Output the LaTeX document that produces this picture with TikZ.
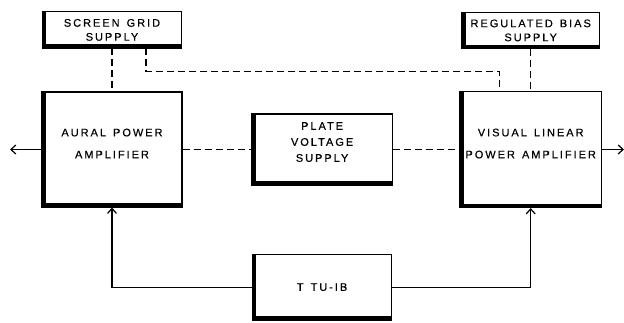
\documentclass[tikz,border=0pt]{standalone}
\usepackage{fontspec}
\newfontfamily\lettr{Liberation Sans}[LetterSpace=18, FakeBold=0.4, WordSpace=1.4]
\usepackage{tikz}
\usetikzlibrary{arrows.meta, positioning}

\begin{document}
\begin{tikzpicture}[
  unit/.style={rectangle, draw, line width=1.1pt, align=center,
               font=\fontsize{11}{14}\selectfont\lettr},
  heavy/.style={line width=4.5pt},
  feed/.style={dash pattern=on 7pt off 4pt, line width=1.3pt},
  arrow/.style={-{Straight Barb[length=5pt, width=9pt]}, line width=1.2pt}
]
  \useasboundingbox (0,0) rectangle (624pt,322pt);

  \node[unit, minimum width=140pt, minimum height=115pt] (aur) at (112pt,172.5pt)
    {AURAL POWER\\[8pt]AMPLIFIER\\[-2pt]\mbox{}};
  \node[unit, minimum width=140pt, minimum height=71pt, right=69pt of aur] (plt)
    {PLATE\\[2pt]VOLTAGE\\[2pt]SUPPLY\\[1pt]\mbox{}};
  \node[unit, minimum width=141pt, minimum height=116pt, right=67pt of plt] (vis)
    {VISUAL LINEAR\\[8pt]POWER AMPLIFIER\\[-2pt]\mbox{}};
  \node[unit, minimum width=139pt, minimum height=36pt, above=43pt of aur] (scr)
    {SCREEN GRID\\SUPPLY};
  \node[unit, minimum width=137pt, minimum height=36pt, above=42pt of vis] (bias)
    {REGULATED BIAS\\SUPPLY};
  \node[unit, minimum width=139pt, minimum height=66pt, below=68pt of plt] (ttu)
    {T TU-IB};

  % heavy left and bottom edges
  \foreach \b in {aur,plt,vis,scr,bias,ttu}
    \draw[heavy] ([xshift=2pt]\b.north west) -- ([shift={(2pt,2pt)}]\b.south west)
      -- ([yshift=2pt]\b.south east);

  \coordinate (outl) at (10pt,172.5pt);
  \coordinate (outr) at (624pt,172.5pt);

  \draw[feed] (scr.south) -- (aur.north);
  \draw[feed] ([xshift=34pt]scr.south) -- ++(0,-23pt) -| ([xshift=-31pt]vis.north);
  \draw[feed] (bias.south) -- (vis.north);
  \draw[feed] (aur) -- (plt);
  \draw[feed] (plt) -- (vis);

  \draw[arrow] (aur.west) -- (outl);
  \draw[arrow] (vis.east) -- (outr);
  \draw[arrow] (ttu.west) -| (aur.south);
  \draw[arrow] (ttu.east) -| (vis.south);
\end{tikzpicture}
\end{document}
